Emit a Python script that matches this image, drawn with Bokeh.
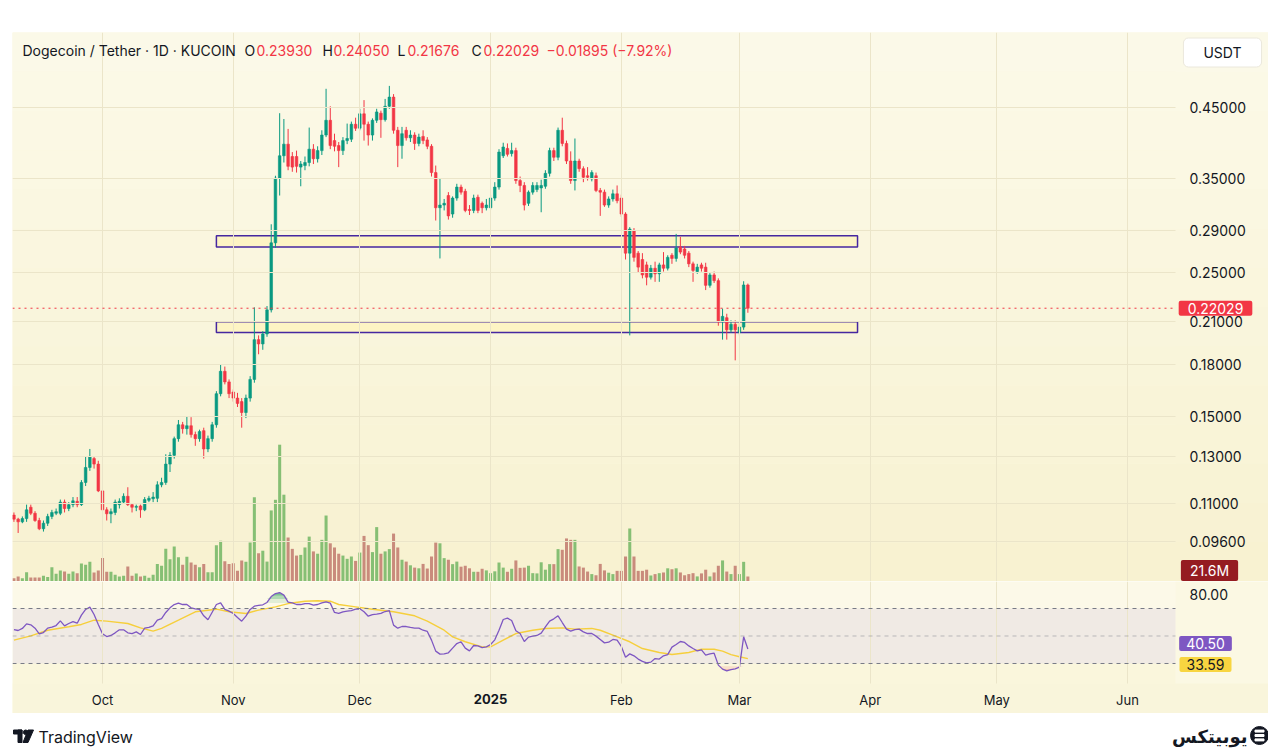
import math
from datetime import datetime
import numpy as np
from bokeh.plotting import figure
from bokeh.models import (ColumnDataSource, Range1d, LinearScale, FixedTicker, PrintfTickFormatter,
                          CustomJSTickFormatter, Grid, Span, BoxAnnotation, Label, Spacer,
                          LogAxis, LinearAxis)
from bokeh.layouts import column, row
from bokeh.embed import file_html
from bokeh.resources import INLINE

# ---------------- data ----------------
start_date = "2024-09-10"   # first daily candle

opens = [
 .1055, .1040, .1030, .1042, .1085, .1062, .1035, .1005, .1025, .1050,
 .1062, .1062, .1105, .1080, .1095, .1108, .1095, .1185, .1250, .1290,
 .1265, .1150, .1075, .1060, .1065, .1095, .1105, .1128, .1095, .1085,
 .1090, .1075, .1112, .1118, .1120, .1175, .1185, .1265, .1305, .1385,
 .1455, .1435, .1450, .1405, .1385, .1425, .1335, .1385, .1455, .1625,
 .1760, .1695, .1635, .1600, .1580, .1520, .1600, .1710, .1970, .1940,
 .2010, .2190, .2780, .3500, .3790, .3950, .3780, .3780, .3640, .3660,
 .3700, .3880, .3750, .3860, .4080, .4300, .4000, .3930, .3860, .4000,
 .4020, .4240, .4180, .4400, .4240, .4080, .4300, .4410, .4310, .4520,
 .4670, .4150, .3930, .4150, .4040, .4080, .3960, .4060, .4010, .3920,
 .3570, .3150, .3180, .3290, .3080, .3260, .3390, .3340, .3130, .3120,
 .3270, .3200, .3150, .3150, .3260, .3390, .3790, .3890, .3820, .3860,
 .3470, .3410, .3200, .3330, .3360, .3380, .3400, .3560, .3860, .3770,
 .4150, .3960, .3720, .3470, .3720, .3620, .3530, .3490, .3530, .3350,
 .3330, .3180, .3250, .3310, .3260, .3080, .2680, .2900, .2680, .2620,
 .2570, .2460, .2540, .2490, .2570, .2540, .2660, .2630, .2740, .2720,
 .2680, .2580, .2510, .2570, .2550, .2390, .2480, .2430, .2100, .2130,
 .2040, .2080, .2020, .2060, .2393]
highs = [
 .1065, .1045, .1050, .1095, .1095, .1070, .1045, .1035, .1060, .1075,
 .1080, .1115, .1115, .1105, .1125, .1125, .1195, .1300, .1335, .1300,
 .1280, .1155, .1085, .1080, .1115, .1120, .1140, .1165, .1100, .1095,
 .1095, .1125, .1130, .1145, .1190, .1205, .1310, .1320, .1395, .1480,
 .1470, .1500, .1495, .1420, .1430, .1440, .1400, .1470, .1640, .1800,
 .1790, .1710, .1650, .1630, .1600, .1620, .1730, .2210, .2000, .2030,
 .2220, .2970, .3530, .4410, .4320, .4170, .3840, .3860, .3720, .3780,
 .4190, .3950, .3920, .4150, .4810, .4520, .4100, .3980, .4050, .4250,
 .4280, .4340, .4480, .4620, .4280, .4330, .4480, .4450, .4640, .4860,
 .4720, .4200, .4200, .4200, .4150, .4120, .4100, .4150, .4050, .3950,
 .3660, .3500, .3250, .3330, .3280, .3430, .3420, .3370, .3180, .3300,
 .3300, .3220, .3250, .3300, .3450, .3880, .3970, .3960, .3970, .3900,
 .3520, .3450, .3350, .3450, .3450, .3480, .3600, .3900, .3900, .4190,
 .4340, .4000, .3850, .4030, .3750, .3650, .3640, .3600, .3570, .3380,
 .3360, .3280, .3360, .3410, .3300, .3100, .2940, .2930, .2700, .2680,
 .2600, .2570, .2600, .2590, .2690, .2660, .2680, .2870, .2840, .2750,
 .2700, .2600, .2580, .2590, .2590, .2500, .2510, .2450, .2200, .2160,
 .2110, .2110, .2100, .2425, .2405]
lows = [
 .1030, .0990, .1025, .1030, .1055, .1030, .1000, .0995, .1015, .1040,
 .1055, .1055, .1065, .1070, .1085, .1085, .1090, .1170, .1235, .1245,
 .1145, .1040, .1035, .1025, .1055, .1080, .1100, .1090, .1065, .1070,
 .1045, .1070, .1105, .1105, .1105, .1165, .1175, .1230, .1290, .1370,
 .1410, .1405, .1390, .1350, .1370, .1290, .1320, .1370, .1440, .1610,
 .1680, .1600, .1580, .1550, .1440, .1490, .1580, .1690, .1870, .1900,
 .1990, .2170, .2730, .3290, .3700, .3600, .3580, .3570, .3400, .3600,
 .3650, .3680, .3700, .3800, .4050, .3880, .3850, .3640, .3800, .3950,
 .3980, .4140, .4150, .4000, .3930, .4000, .4260, .4040, .4280, .4480,
 .4100, .3640, .3750, .4000, .3980, .3870, .3920, .3950, .3880, .3520,
 .3010, .2630, .3120, .3020, .3040, .3230, .3300, .3100, .3070, .3090,
 .3090, .3090, .3120, .3130, .3230, .3360, .3760, .3780, .3780, .3430,
 .3330, .3120, .3170, .3300, .3330, .3100, .3370, .3520, .3720, .3730,
 .3920, .3680, .3430, .3350, .3580, .3450, .3470, .3460, .3330, .3060,
 .3160, .3150, .3220, .3200, .3050, .2620, .2000, .2600, .2500, .2450,
 .2390, .2440, .2420, .2420, .2510, .2520, .2580, .2600, .2670, .2630,
 .2550, .2420, .2490, .2510, .2350, .2370, .2410, .2070, .1970, .1970,
 .2020, .1830, .2000, .2040, .21676]
closes = [
 .1040, .1030, .1042, .1075, .1062, .1035, .1005, .1025, .1050, .1065,
 .1068, .1105, .1080, .1095, .1110, .1095, .1185, .1250, .1300, .1265,
 .1150, .1075, .1060, .1068, .1105, .1108, .1128, .1095, .1085, .1088,
 .1075, .1115, .1120, .1125, .1175, .1185, .1265, .1305, .1385, .1455,
 .1435, .1450, .1405, .1385, .1420, .1335, .1385, .1455, .1625, .1760,
 .1695, .1625, .1600, .1570, .1520, .1600, .1710, .1970, .1940, .2010,
 .2190, .2780, .3500, .3790, .3950, .3650, .3640, .3650, .3680, .3700,
 .3880, .3750, .3860, .4080, .4300, .3930, .3920, .3860, .4000, .4030,
 .4240, .4180, .4400, .4240, .4080, .4300, .4430, .4310, .4520, .4670,
 .4150, .3930, .4100, .4040, .4080, .3960, .4050, .4000, .3920, .3570,
 .3150, .3180, .3200, .3060, .3260, .3390, .3330, .3120, .3120, .3260,
 .3120, .3150, .3180, .3260, .3390, .3840, .3910, .3810, .3860, .3470,
 .3410, .3180, .3330, .3410, .3410, .3410, .3560, .3860, .3770, .4150,
 .3960, .3720, .3470, .3720, .3620, .3510, .3510, .3570, .3350, .3330,
 .3180, .3250, .3310, .3230, .3080, .2680, .2920, .2640, .2550, .2480,
 .2460, .2540, .2490, .2570, .2540, .2640, .2630, .2730, .2690, .2660,
 .2580, .2520, .2550, .2540, .2390, .2480, .2430, .2100, .2140, .2040,
 .2080, .2040, .2060, .2393, .22029]

volumes_m = [
 14, 22, 14, 40, 17, 17, 17, 25, 19, 62,
 33, 48, 43, 33, 43, 36, 78, 72, 85, 39,
 48, 101, 42, 42, 29, 22, 25, 65, 25, 35,
 22, 25, 16, 29, 76, 68, 141, 96, 151, 105,
 72, 107, 82, 72, 62, 76, 40, 40, 157, 176,
 88, 76, 79, 46, 91, 85, 168, 364, 122, 133,
 86, 307, 353, 591, 375, 190, 141, 112, 115, 147,
 194, 130, 120, 180, 285, 165, 147, 120, 112, 98,
 108, 89, 125, 197, 157, 127, 235, 120, 130, 140,
 207, 147, 94, 86, 70, 60, 57, 76, 56, 108,
 168, 165, 101, 94, 75, 86, 64, 68, 57, 42,
 42, 55, 48, 36, 44, 82, 60, 42, 55, 91,
 59, 60, 68, 36, 35, 83, 51, 75, 75, 140,
 137, 186, 180, 180, 65, 60, 43, 32, 27, 76,
 48, 38, 32, 46, 46, 108, 229, 108, 46, 46,
 51, 26, 32, 36, 39, 57, 53, 57, 39, 27,
 32, 36, 22, 35, 51, 22, 39, 68, 91, 43,
 32, 68, 32, 85, 21.6]

rsi = [
 54.7, 54.0, 55.5, 58.8, 58.1, 55.7, 51.6, 52.5, 55.7, 56.4,
 57.6, 61.0, 57.4, 59.1, 60.5, 59.3, 65.2, 69.3, 71.0, 65.6,
 58.4, 51.6, 49.6, 50.4, 52.3, 54.5, 54.5, 52.3, 51.8, 53.0,
 51.1, 55.7, 56.2, 57.4, 61.5, 62.7, 67.1, 70.5, 72.9, 73.9,
 72.9, 72.9, 70.5, 69.8, 69.3, 64.7, 61.8, 67.3, 72.9, 74.1,
 69.3, 68.1, 66.4, 63.5, 60.8, 64.4, 69.3, 71.7, 72.2, 72.7,
 74.4, 78.7, 80.9, 81.6, 79.7, 74.6, 74.1, 72.9, 72.9, 73.6,
 73.6, 72.4, 72.9, 74.1, 74.8, 73.9, 67.1, 66.4, 67.6, 68.1,
 68.5, 69.5, 69.8, 67.6, 64.4, 65.6, 65.9, 66.4, 67.8, 68.5,
 57.9, 55.7, 56.9, 56.9, 56.2, 55.7, 55.7, 54.2, 53.3, 47.0,
 39.0, 36.8, 37.0, 37.8, 41.2, 44.5, 45.8, 41.2, 39.2, 43.1,
 42.8, 41.6, 42.1, 43.8, 47.2, 54.2, 62.0, 63.0, 61.3, 53.8,
 51.8, 46.0, 49.2, 49.9, 50.4, 52.1, 56.7, 60.8, 62.5, 64.7,
 59.8, 55.0, 53.5, 54.7, 55.0, 53.0, 51.8, 51.8, 49.9, 47.5,
 45.0, 45.5, 47.5, 47.0, 42.4, 34.6, 37.0, 35.6, 33.2, 31.5,
 30.5, 31.0, 33.6, 33.2, 35.6, 36.5, 41.9, 43.8, 46.0, 45.3,
 42.8, 40.9, 39.2, 39.9, 36.1, 37.0, 37.5, 28.8, 25.9, 24.7,
 25.6, 26.1, 27.3, 49.4, 40.5]

# RSI moving average, read at these candle numbers (1-based)
rsi_ma_idx = [1, 5, 9, 14, 17, 20, 23, 28, 31, 34, 36, 40, 44, 49, 52, 56, 59, 63, 66, 70,
              73, 76, 78, 82, 86, 91, 96, 99, 103, 105, 108, 112, 114, 117, 120, 124, 127, 131,
              134, 138, 140, 143, 147, 150, 154, 157, 161, 164, 167, 169, 171, 173, 175]
rsi_ma = [47.0, 50.1, 54.2, 56.7, 58.4, 61.5, 60.8, 59.1, 55.9, 53.5, 55.5, 61.5, 67.6, 69.5,
          67.6, 66.4, 68.8, 71.2, 73.6, 75.3, 75.6, 75.3, 72.9, 71.2, 69.5, 67.6, 64.7, 60.8,
          54.2, 49.4, 45.8, 42.1, 42.1, 47.0, 51.8, 54.2, 55.5, 55.9, 55.0, 55.5, 54.2, 50.6,
          45.8, 40.9, 38.0, 36.5, 38.0, 40.4, 40.4, 39.0, 36.5, 34.9, 33.59]

zone_start = "2024-10-28"
zone_end = "2025-03-29"
zone_bottom = [0.274, 0.202]
zone_top = [0.285, 0.210]

price_ticks = [0.096, 0.11, 0.13, 0.15, 0.18, 0.21, 0.25, 0.29, 0.35, 0.45]
rsi_ticks = [80]
month_starts = ["2024-10-01", "2024-11-01", "2024-12-01", "2025-01-01", "2025-02-01",
                "2025-03-01", "2025-04-01", "2025-05-01", "2025-06-01"]
year_label = "2025"

header_title = "Dogecoin / Tether · 1D · KUCOIN"
ohlc_letters = ["O", "H", "L", "C"]
ohlc_values = ["0.23930", "0.24050", "0.21676", "0.22029"]
change_text = "−0.01895 (−7.92%)"
last_price = 0.22029
last_volume_text = "21.6M"
rsi_last_text = "40.50"
rsi_ma_last_text = "33.59"

# ---------------- geometry helpers (layout only) ----------------
DAY = 86400000.0


def ms(s):
    return (datetime.strptime(s, "%Y-%m-%d") - datetime(1970, 1, 1)).total_seconds() * 1000.0


PX_PER_DAY = 4.218
CARD_W = 1256          # card spans page x 12..1268
AXIS_PX = 1175         # page x where the price scale starts
X0 = ms("2024-10-01") - 21.34 * DAY
X1 = X0 + CARD_W * DAY / PX_PER_DAY


def xpx(px):  # page x -> data x
    return X0 + (px - 12) * DAY / PX_PER_DAY


Y_TOP, Y_BOT = 0.5877, 0.0833
PRICE_TOP_PX, PRICE_H = 32, 549


def ypx(py):  # page y -> price
    lt, lb = math.log(Y_TOP), math.log(Y_BOT)
    return math.exp(lt - (py - PRICE_TOP_PX) / PRICE_H * (lt - lb))


RSI_TOP_PX, RSI_H = 581, 132
R_TOP = 89.64
R_PER_PX = (89.64 - 15.45) / 102.0
R_BOT = R_TOP - RSI_H * R_PER_PX


def rpx(py):
    return R_TOP - (py - RSI_TOP_PX) * R_PER_PX


FONT = "Inter"
TXT = "#131722"
RED = "#f23645"
GREEN = "#089981"


def drop_default_grids(fig):
    fig.center = [c for c in fig.center if not isinstance(c, Grid)]


n = len(closes)
xs = [ms(start_date) + i * DAY for i in range(n)]
col = [GREEN if c >= o else RED for o, c in zip(opens, closes)]
vcol = ["#86bf74" if c >= o else "#c98b7c" for o, c in zip(opens, closes)]
src = ColumnDataSource(dict(
    x=xs, o=opens, h=highs, l=lows, c=closes,
    top=[max(o, c) for o, c in zip(opens, closes)],
    bot=[min(o, c) for o, c in zip(opens, closes)],
    col=col, vol=volumes_m, vcol=vcol))

month_ms = [ms(s) for s in month_starts]
xr = Range1d(X0, X1)
GRID = "#ebe5c9"

# ---------------- price pane ----------------
p = figure(width=CARD_W, height=PRICE_H, x_range=xr, y_range=Range1d(Y_BOT, Y_TOP),
           y_axis_type="log", x_axis_location=None, y_axis_location=None,
           output_backend="svg", toolbar_location=None, tools="", min_border=0,
           background_fill_color="#faf6de", border_fill_color="#faf6de", outline_line_color=None)
drop_default_grids(p)

# soft vertical gradient of the pane background
NB = 14
c_top = np.array([252, 250, 233])
c_bot = np.array([248, 242, 209])
lt, lb = math.log(Y_TOP), math.log(Y_BOT)
bands = []
for k in range(NB):
    b = math.exp(lb + (lt - lb) * k / NB)
    t = math.exp(lb + (lt - lb) * (k + 1) / NB)
    cc = c_bot + (c_top - c_bot) * (k + 0.5) / NB
    bands.append((b, t, "#%02x%02x%02x" % tuple(int(v) for v in cc)))
for b, t, c in bands:
    p.add_layout(BoxAnnotation(bottom=b, top=t, fill_color=c, fill_alpha=1.0, line_color=None,
                               level="underlay"))

pt = FixedTicker(ticks=price_ticks)
p.add_layout(Grid(dimension=1, ticker=pt, grid_line_color=GRID, level="glyph"))
p.add_layout(Grid(dimension=0, ticker=FixedTicker(ticks=month_ms), grid_line_color=GRID,
                  level="glyph"))
p.add_layout(Span(location=last_price, dimension="width", line_color=RED, line_dash="dotted",
                  line_width=1, level="glyph"))
# price-scale strip (covers grid and price line right of the chart)
for b, t, c in bands:
    p.add_layout(BoxAnnotation(left=xpx(AXIS_PX), bottom=b, top=t, fill_color=c, fill_alpha=1.0,
                               line_color=None, level="glyph"))

yax = LogAxis(ticker=pt, formatter=PrintfTickFormatter(format="%.5f"), fixed_location=xpx(AXIS_PX),
              axis_line_color=None, major_tick_line_color=None, minor_tick_line_color=None,
              major_tick_out=0, major_tick_in=0, major_label_standoff=14,
              major_label_text_font=FONT, major_label_text_font_size="14px",
              major_label_text_color=TXT)
p.add_layout(yax, "right")

p.extra_y_ranges = {"vol": Range1d(0, PRICE_H * 4.32)}
p.extra_y_scales = {"vol": LinearScale()}
p.vbar(x="x", top="vol", bottom=0, width=0.72 * DAY, fill_color="vcol", line_color=None,
       y_range_name="vol", source=src)

zs, ze = ms(zone_start), ms(zone_end)
p.quad(left=[zs] * len(zone_bottom), right=[ze] * len(zone_bottom), bottom=zone_bottom, top=zone_top,
       fill_color="#fdf3c2", fill_alpha=0.95, line_color="#4527a0", line_width=1.5)

p.segment(x0="x", y0="h", x1="x", y1="l", line_color="col", line_width=1, source=src)
p.vbar(x="x", top="top", bottom="bot", width=0.62 * DAY, fill_color="col", line_color="col",
       line_width=0.6, source=src)

# header
hy = ypx(50)
p.add_layout(Label(x=xpx(22), y=hy, text=header_title, text_font=FONT, text_font_size="14px",
                   text_color=TXT, text_baseline="middle"))
letter_px = [244, 322, 397, 471]
value_px = [256, 333, 407, 483]
for L, V, lx, vx in zip(ohlc_letters, ohlc_values, letter_px, value_px):
    p.add_layout(Label(x=xpx(lx), y=hy, text=L, text_font=FONT, text_font_size="14px",
                       text_color=TXT, text_baseline="middle"))
    p.add_layout(Label(x=xpx(vx), y=hy, text=V, text_font=FONT, text_font_size="14px",
                       text_color=RED, text_baseline="middle"))
p.add_layout(Label(x=xpx(546), y=hy, text=change_text, text_font=FONT, text_font_size="14px",
                   text_color=RED, text_baseline="middle"))

# right-side labels  (padding = (horizontal, vertical))
p.add_layout(Label(x=xpx(1222), y=ypx(52), text="USDT", text_font=FONT, text_font_size="14px",
                   text_color=TXT, text_align="center", text_baseline="middle",
                   background_fill_color="white", border_line_color="#ebe8dc",
                   padding=(20, 6), border_radius=5))
p.add_layout(Label(x=xpx(1215), y=last_price, text=f"{last_price:.5f}", text_font=FONT,
                   text_font_size="14px", text_color="white", text_align="center",
                   text_baseline="middle", background_fill_color=RED, padding=(9, 2),
                   border_radius=2))
p.add_layout(Label(x=xpx(1209), y=ypx(570), text=last_volume_text, text_font=FONT,
                   text_font_size="14px", text_color="white", text_align="center",
                   text_baseline="middle", background_fill_color="#951c21", padding=(9, 2),
                   border_radius=2))

# ---------------- RSI pane + time scale ----------------
r = figure(width=CARD_W, height=RSI_H, x_range=xr, y_range=Range1d(R_BOT, R_TOP),
           x_axis_location=None, y_axis_location=None,
           output_backend="svg", toolbar_location=None, tools="", min_border=0,
           background_fill_color="#fcf9e8", border_fill_color="#f9f5db", outline_line_color=None)
drop_default_grids(r)
r.add_layout(BoxAnnotation(top=30, fill_color="#faf6dc", fill_alpha=1, line_color=None,
                           level="underlay"))
r.add_layout(BoxAnnotation(bottom=30, top=70, fill_color="#7e57c2", fill_alpha=0.09,
                           line_color=None, level="underlay"))
r.add_layout(Grid(dimension=0, ticker=FixedTicker(ticks=month_ms), grid_line_color=GRID,
                  level="glyph"))
for lvl, alpha in [(70, 1.0), (50, 0.45), (30, 1.0)]:
    r.add_layout(Span(location=lvl, dimension="width", line_color="#787b86", line_alpha=alpha,
                      line_dash="4 4", line_width=1, level="glyph"))
# price-scale strip and time-scale strip
r.add_layout(BoxAnnotation(left=xpx(AXIS_PX), fill_color="#fbf8e3", fill_alpha=1, line_color=None,
                           level="glyph"))
r.add_layout(BoxAnnotation(top=rpx(683), fill_color="#f9f5db", fill_alpha=1, line_color=None,
                           level="glyph"))

rax = LinearAxis(ticker=FixedTicker(ticks=rsi_ticks), formatter=PrintfTickFormatter(format="%.2f"),
                 fixed_location=xpx(AXIS_PX), axis_line_color=None, major_tick_line_color=None,
                 minor_tick_line_color=None, major_tick_out=0, major_tick_in=0,
                 major_label_standoff=14, major_label_text_font=FONT,
                 major_label_text_font_size="14px", major_label_text_color=TXT)
r.add_layout(rax, "right")
xax = LinearAxis(ticker=FixedTicker(ticks=month_ms), fixed_location=rpx(683),
                 formatter=CustomJSTickFormatter(code="""
const names = ['', 'Feb','Mar','Apr','May','Jun','Jul','Aug','Sep','Oct','Nov','Dec'];
return names[new Date(tick).getUTCMonth()];
"""),
                 axis_line_color=None, major_tick_line_color=None, minor_tick_line_color=None,
                 major_tick_out=0, major_tick_in=0, major_label_standoff=8,
                 major_label_text_font=FONT, major_label_text_font_size="13px",
                 major_label_text_color=TXT)
r.add_layout(xax, "below")
r.add_layout(Label(x=ms(month_starts[3]), y=rpx(698), text=year_label, text_font=FONT,
                   text_font_size="13px", text_font_style="bold", text_color=TXT,
                   text_align="center", text_baseline="middle"))

rsi_arr = np.array(rsi)
for t, a in [(74, 0.12), (77, 0.25), (79.5, 0.35)]:
    r.varea(x=xs, y1=[t] * n, y2=np.maximum(rsi_arr, t), fill_color="#1e9e4f", fill_alpha=a)
for t, a in [(28, 0.12), (26, 0.2)]:
    r.varea(x=xs, y1=np.minimum(rsi_arr, t), y2=[t] * n, fill_color=RED, fill_alpha=a)

r.line(x=[xs[i - 1] for i in rsi_ma_idx], y=rsi_ma, line_color="#f6cf3c", line_width=1.4)
r.line(x=xs, y=rsi, line_color="#7e57c2", line_width=1.3)

r.add_layout(Label(x=xpx(1205), y=rpx(643), text=rsi_last_text, text_font=FONT,
                   text_font_size="14px", text_color="white", text_align="center",
                   text_baseline="middle", background_fill_color="#7e57c2", padding=(7, 2),
                   border_radius=2))
r.add_layout(Label(x=xpx(1205), y=rpx(664), text=rsi_ma_last_text, text_font=FONT,
                   text_font_size="14px", text_color=TXT, text_align="center",
                   text_baseline="middle", background_fill_color="#f8d540", padding=(7, 2),
                   border_radius=2))

# ---------------- footer ----------------
f = figure(width=CARD_W, height=35, x_range=Range1d(0, CARD_W), y_range=Range1d(0, 35),
           x_axis_location=None, y_axis_location=None, output_backend="svg",
           toolbar_location=None, tools="", min_border=0,
           background_fill_color="#ffffff", border_fill_color="#ffffff", outline_line_color=None)
drop_default_grids(f)
# TradingView mark
f.quad(left=[1, 5.5], right=[9.5, 9.5], bottom=[14.5, 6], top=[18.5, 18.5], color="#131722")
f.circle(x=[13.2], y=[16.2], radius=2.3, color="#131722")
f.patch(x=[15.5, 21, 15.5, 10.5], y=[18.5, 18.5, 6, 6], color="#131722")
f.add_layout(Label(x=26, y=12, text="TradingView", text_font=FONT, text_font_size="16px",
                   text_color=TXT, text_baseline="middle"))
# Ubitex mark
f.circle(x=[1247], y=[13], radius=9, color="#131722")
f.quad(left=[1242.5] * 3, right=[1251.5] * 3, bottom=[7.6, 12.0, 16.4], top=[9.6, 14.0, 18.4],
       color="white")
f.add_layout(Label(x=1235, y=12, text="یوبیتکس", text_font="DejaVu Sans", text_font_size="18px",
                   text_font_style="bold", text_color="#131722", text_align="right",
                   text_baseline="middle"))

layout = column(
    Spacer(width=1268, height=32),
    row(Spacer(width=12, height=PRICE_H), p),
    row(Spacer(width=12, height=RSI_H), r),
    row(Spacer(width=12, height=35), f),
)

open("out.html", "w").write(file_html(layout, INLINE))
